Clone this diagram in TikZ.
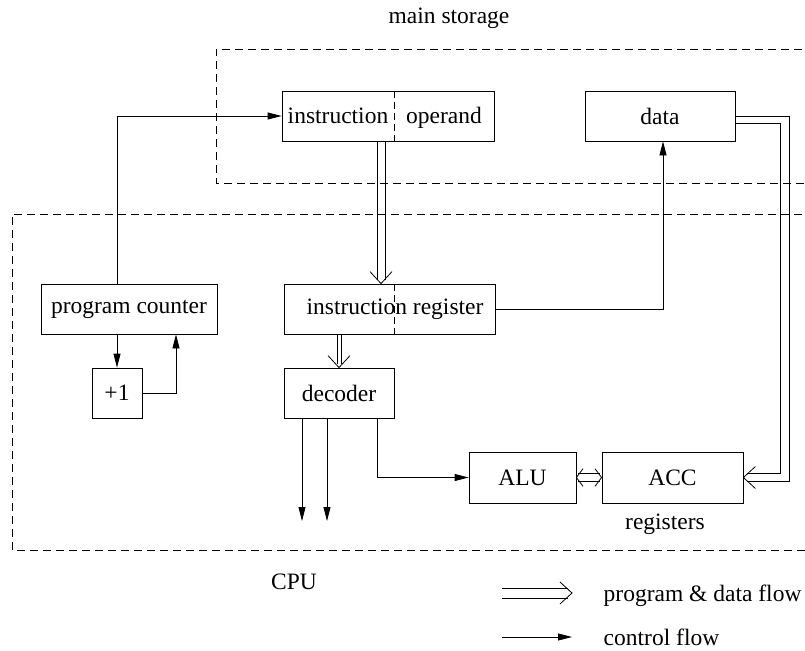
\documentclass[tikz,border=0pt]{standalone}
\usepackage{fontspec}
\setmainfont{Liberation Serif}
\usetikzlibrary{arrows.meta}

\tikzset{vhead/.pic={\draw (-12pt,-11pt) -- (0,0) -- (-12pt,11pt);}}

\begin{document}
\begin{tikzpicture}[x=1pt,y=-1pt,line width=0.8pt,
   font=\fontsize{23.5}{28}\selectfont,
   box/.style={draw,rectangle,inner sep=0pt,minimum height=50pt},
   area/.style={dash pattern=on 8pt off 5pt},
   split/.style={dash pattern=on 7pt off 4pt},
   ctrl/.style={-{Triangle[length=14pt,width=7pt]}}]
   \useasboundingbox (0,0) rectangle (805,650);
   % the two areas
   \draw [area] (815,49) -- (216,49) -- (216,183) -- (815,183);
   \draw [area] (815,214) -- (12,214) -- (12,550) -- (815,550);
   \node (mslabel) at (449,18) {main storage};
   \node (cpulabel) at (294,582) {CPU};
   % main storage
   \node [box,minimum width=212pt] (mem) at (388,116) {};
   \draw [split] (394,91) -- (394,141);
   \node [anchor=base] (instr) at (338,124) {instruction};
   \node [anchor=base] (opnd) at (444,124) {operand};
   \node [box,minimum width=150pt] (data) at (660,116) {data};
   % cpu
   \node [box,minimum width=176pt] (pc) at (129,309) {program counter};
   \node [box,minimum width=50pt] (inc) at (117,393) {+1};
   \node [box,minimum width=211pt] (ir) at (389.5,309) {};
   \draw [split] (394,284) -- (394,334);
   \node (irtext) at (395,309) {instruction register};
   \node [box,minimum width=110pt] (dec) at (339,393) {decoder};
   \node [box,minimum width=107pt,minimum height=51pt] (alu) at (522.5,477.5) {ALU};
   \node [box,minimum width=141pt,minimum height=51pt] (acc) at (672.5,477.5) {ACC};
   \node (reglabel) at (665,524) {registers};
   \coordinate (out1) at (302,521);
   \coordinate (out2) at (327,521);
   % control flow
   \draw [ctrl] (inc.north |- pc.north) |- (mem.west);
   \draw [ctrl] (inc.north |- pc.south) -- (inc.north);
   \draw [ctrl] (inc.east) -| ([xshift=47pt]pc.south);
   \draw [ctrl] (ir.east) -| ([xshift=3pt]data.south);
   \draw [ctrl] ([xshift=38pt]dec.south) |- (alu.west);
   \draw [ctrl] (out1 |- dec.south) -- (out1);
   \draw [ctrl] (out2 |- dec.south) -- (out2);
   % program and data flow
   \draw ([xshift=-11pt]mem.south) -- ([xshift=-11pt,yshift=4pt]mem.south |- ir.north);
   \draw ([xshift=-3pt]mem.south) -- ([xshift=-3pt,yshift=4pt]mem.south |- ir.north);
   \pic [rotate=-90] at ([xshift=-7pt]mem.south |- ir.north) {vhead};
   \draw ([xshift=-2pt]dec.north |- ir.south) -- ([xshift=-2pt,yshift=4pt]dec.north);
   \draw ([xshift=2pt]dec.north |- ir.south) -- ([xshift=2pt,yshift=4pt]dec.north);
   \pic [rotate=-90] at (dec.north) {vhead};
   \draw (data.east) -- ++(54,0) |- ([xshift=4pt,yshift=-4pt]acc.east);
   \draw ([yshift=-7pt]data.east) -- ++(45,0) |- ([xshift=4pt,yshift=4pt]acc.east);
   \pic [rotate=180] at (acc.east) {vhead};
   \draw ([xshift=2pt,yshift=4pt]alu.east) -- ([xshift=-2pt,yshift=4pt]acc.west);
   \draw ([xshift=2pt,yshift=-4pt]alu.east) -- ([xshift=-2pt,yshift=-4pt]acc.west);
   \pic [rotate=180,xscale=0.55,yscale=0.8] at (alu.east) {vhead};
   \pic [xscale=0.55,yscale=0.8] at (acc.west) {vhead};
   % legend
   \coordinate (lega) at (502,593);
   \coordinate (legb) at (572,593);
   \coordinate (legc) at (502,637);
   \coordinate (legd) at (572,637);
   \draw ([yshift=5pt]lega) -- ([xshift=-4pt,yshift=5pt]legb);
   \draw ([yshift=-5pt]lega) -- ([xshift=-4pt,yshift=-5pt]legb);
   \pic at (legb) {vhead};
   \draw [ctrl] (legc) -- (legd);
   \node [anchor=west] (legflow) at (600,596) {program \& data flow};
   \node [anchor=west] (legctrl) at (600,637) {control flow};
\end{tikzpicture}
\end{document}
